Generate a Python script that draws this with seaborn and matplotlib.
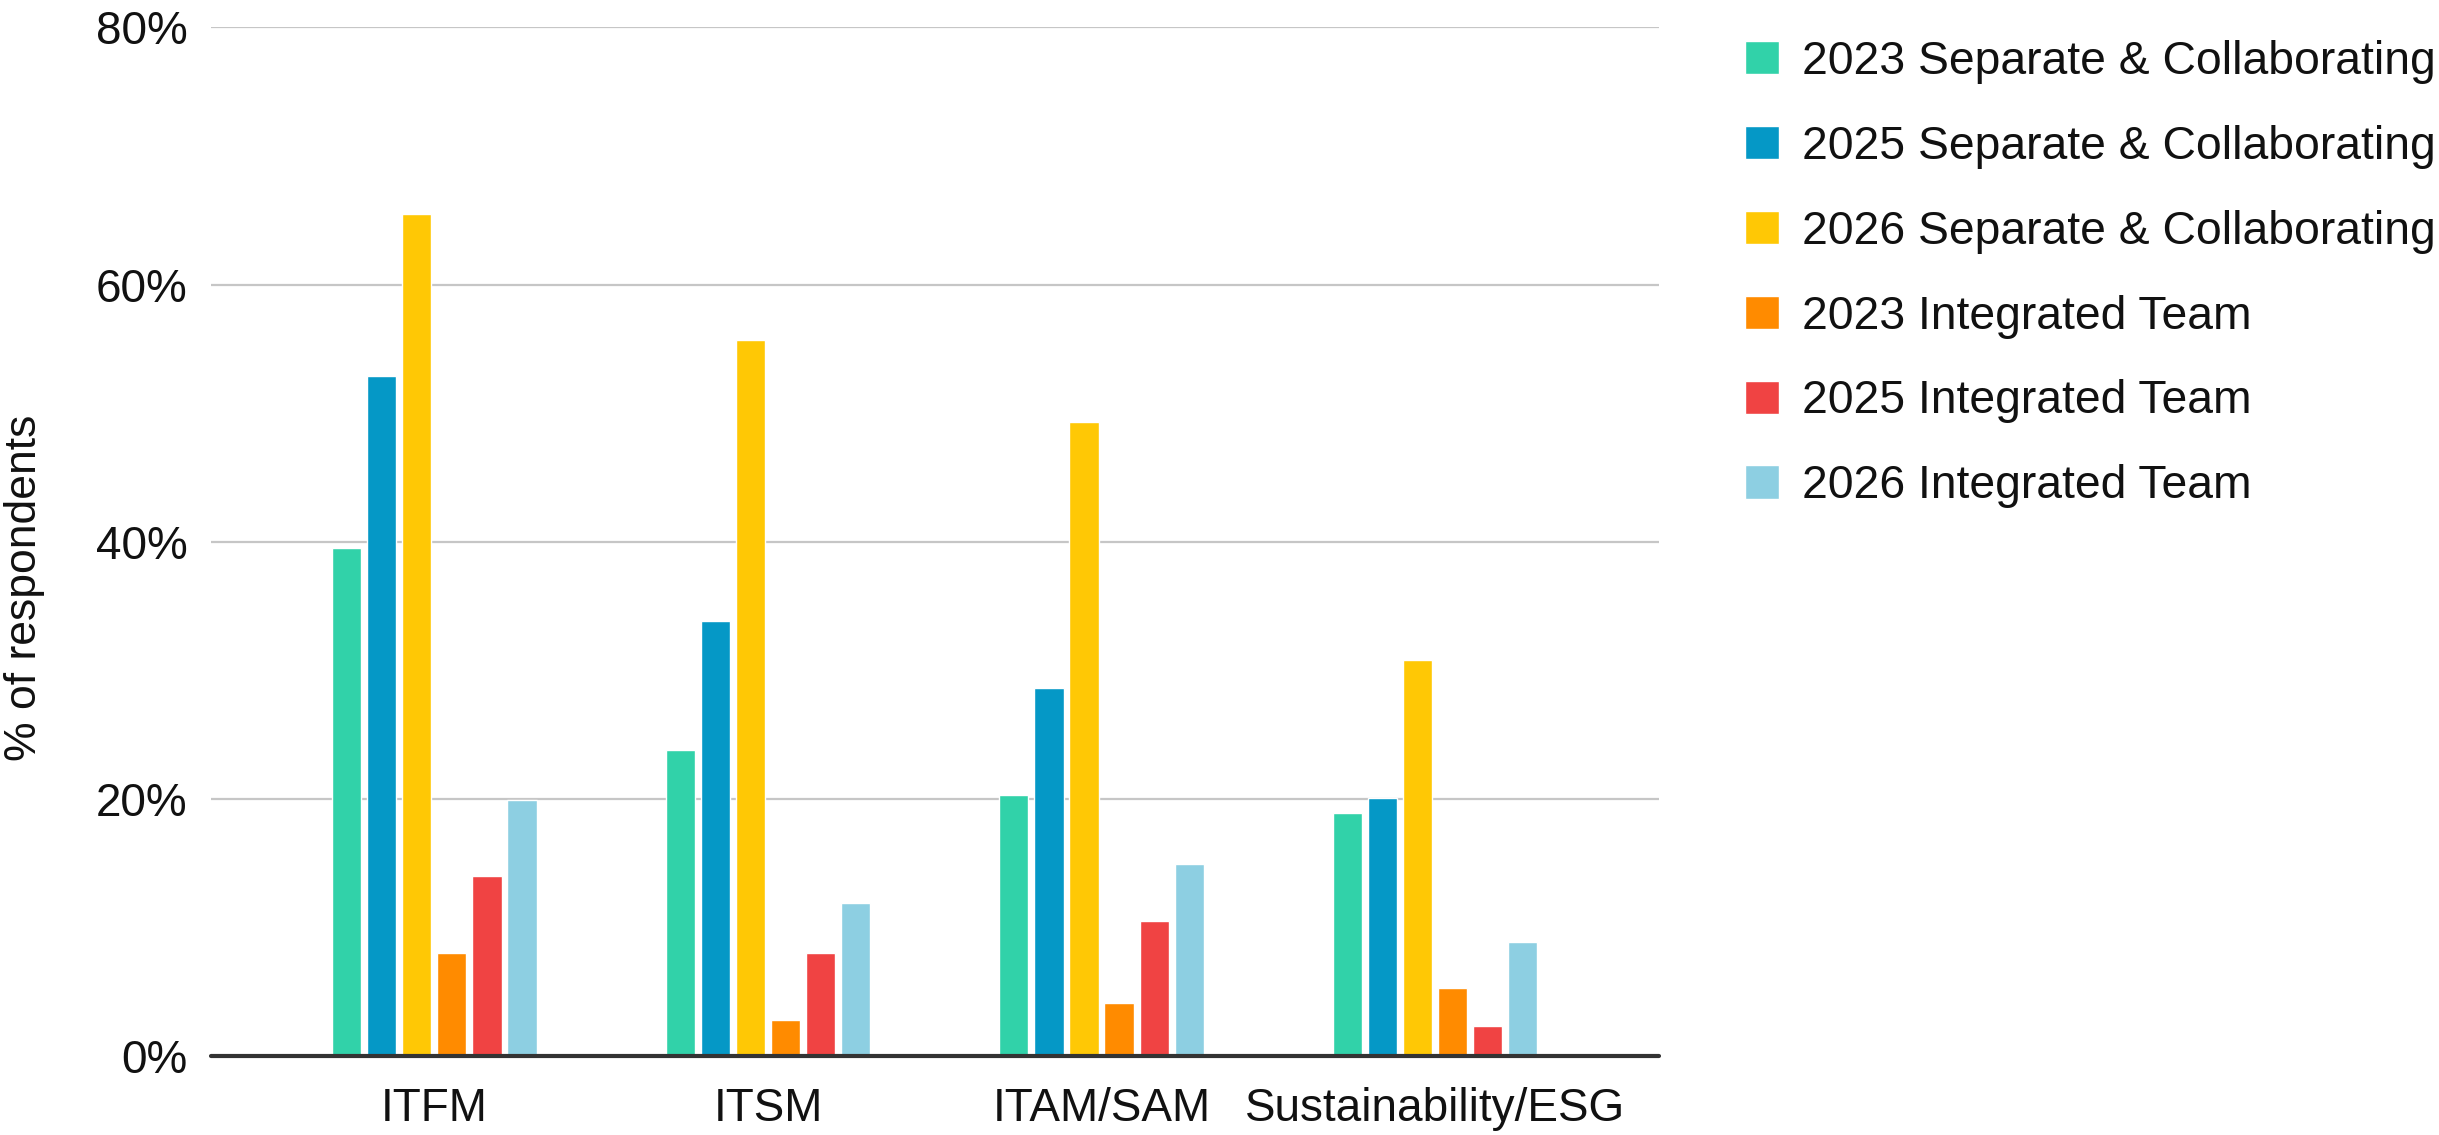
import pandas as pd
import matplotlib.pyplot as plt
import seaborn as sns
from matplotlib.ticker import PercentFormatter

# =========================
# Data
# =========================
categories = ["ITFM", "ITSM", "ITAM/SAM", "Sustainability/ESG"]
series_names = [
    "2023 Separate & Collaborating",
    "2025 Separate & Collaborating",
    "2026 Separate & Collaborating",
    "2023 Integrated Team",
    "2025 Integrated Team",
    "2026 Integrated Team",
]
sep_2023 = [39.5, 23.8, 20.3, 18.9]
sep_2025 = [52.9, 33.8, 28.6, 20.1]
sep_2026 = [65.5, 55.7, 49.3, 30.8]
int_2023 = [8.0, 2.8, 4.1, 5.3]
int_2025 = [14.0, 8.0, 10.5, 2.3]
int_2026 = [19.9, 11.9, 14.9, 8.9]
y_ticks = [0, 20, 40, 60, 80]

colors = ["#31D2A9", "#0598C6", "#FFC805", "#FF8B00", "#F04343", "#8DCFE2"]

# long-form table for seaborn
all_series = [sep_2023, sep_2025, sep_2026, int_2023, int_2025, int_2026]
rows = []
for name, vals in zip(series_names, all_series):
    for cat, v in zip(categories, vals):
        rows.append({"category": cat, "series": name, "value": v})
df = pd.DataFrame(rows)

# =========================
# Plot
# =========================
sns.set_style("white")
plt.rcParams["font.family"] = ["Liberation Sans", "DejaVu Sans"]

fig = plt.figure(figsize=(24.39, 11.35), dpi=100)
ax = fig.add_axes([0.0865, 0.0696, 0.5935, 0.9062])

sns.barplot(
    data=df, x="category", y="value", hue="series",
    order=categories, hue_order=series_names, palette=colors,
    width=0.63, gap=0.17, saturation=1, ax=ax, legend=True,
)

ax.set_ylim(0, 80)
ax.set_xlim(-0.67, 3.67)
ax.set_yticks(y_ticks)
ax.yaxis.set_major_formatter(PercentFormatter(decimals=0))
ax.tick_params(axis="both", length=0, labelsize=33, colors="#111111")
ax.tick_params(axis="y", pad=17)
ax.tick_params(axis="x", pad=22)
ax.set_xlabel("")
ax.set_ylabel("% of respondents", fontsize=32, color="#111111")
ax.yaxis.set_label_coords(-0.115, 0.455)

for s in ax.spines.values():
    s.set_visible(False)
ax.grid(axis="y", color="#c6c6c6", linewidth=1.6)
ax.set_axisbelow(True)
ax.axhline(0, color="#333333", linewidth=3, zorder=5, clip_on=False)

# legend on the right
handles, labels = ax.get_legend_handles_labels()
ax.get_legend().remove()
fig.legend(
    handles, labels, loc="upper left", bbox_to_anchor=(0.7155, 0.965),
    frameon=False, fontsize=33.3, labelcolor="#111111",
    handlelength=0.74, handleheight=0.74,
    handletextpad=0.5, labelspacing=0.885, borderpad=0, borderaxespad=0,
)

plt.savefig("out.png", dpi=100)
